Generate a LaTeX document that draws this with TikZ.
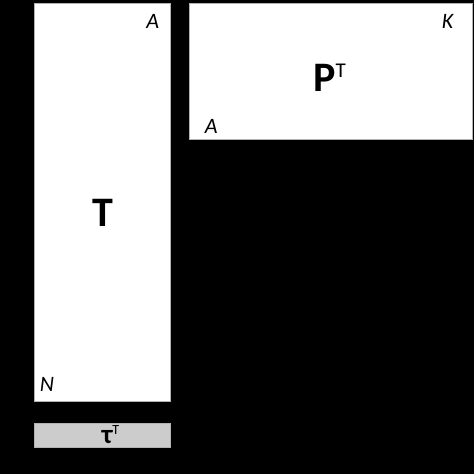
\documentclass[tikz,border=0pt]{standalone}
\usepackage{fontspec}
\setmainfont{Carlito}
\usetikzlibrary{positioning}
\begin{document}
\begin{tikzpicture}[x=1pt,y=-1pt]
  \tikzset{matbox/.style={draw=gray!60,fill=white,line width=0.8pt,inner sep=0pt},
           dimlabel/.style={font=\fontsize{22}{22}\selectfont\itshape,inner sep=0pt},
           matlabel/.style={font=\fontsize{42}{42}\selectfont\bfseries,inner sep=0pt}}
  \fill[black] (0,0) rectangle (474,474);
  % matrices
  \node[matbox, minimum width=136pt, minimum height=398pt] (T) at (102.5,202.5) {};
  \node[matbox, minimum width=283pt, minimum height=136pt] (P) at (330.5,71.5) {};
  \node[matbox, fill=gray!40, minimum width=136pt, minimum height=24pt] (tau) at (102.5,435) {};
  % names
  \node[matlabel, anchor=base] (Tname) at ([yshift=-24pt]T.center) {T};
  \node[matlabel, anchor=base] (Pname) at ([xshift=-1pt,yshift=-19.5pt]P.center)
    {P\raisebox{14pt}{\normalfont\fontsize{21}{21}\selectfont T}};
  \node[font=\fontsize{27}{27}\selectfont\bfseries, inner sep=0pt, anchor=base] (tauname)
    at ([xshift=8pt,yshift=-8.5pt]tau.center)
    {τ\raisebox{9pt}{\normalfont\fontsize{14}{14}\selectfont T}};
  % dimensions
  \node[dimlabel, anchor=north east] (TA) at ([xshift=-11.5pt,yshift=-11.5pt]T.north east) {A};
  \node[dimlabel, anchor=south west] (TN) at ([xshift=5.5pt,yshift=10.5pt]T.south west) {N};
  \node[dimlabel, anchor=north east] (PK) at ([xshift=-19pt,yshift=-11.5pt]P.north east) {K};
  \node[dimlabel, anchor=south west] (PA) at ([xshift=16pt,yshift=6.5pt]P.south west) {A};
  \useasboundingbox (0,0) rectangle (474,474);
\end{tikzpicture}
\end{document}
